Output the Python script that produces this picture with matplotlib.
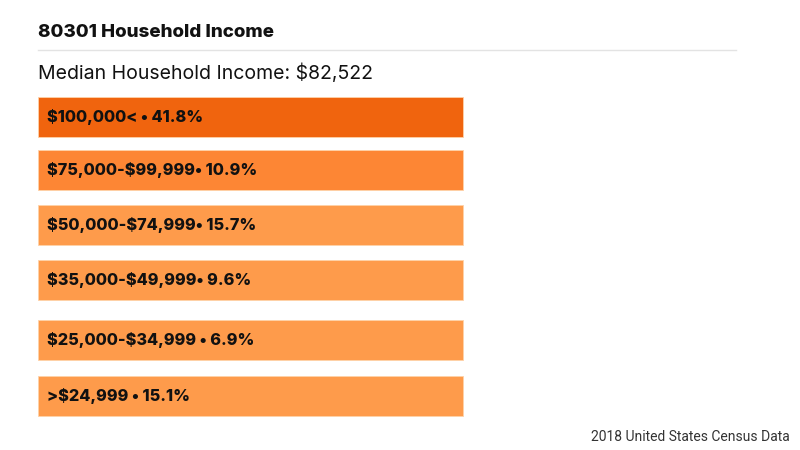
import matplotlib.pyplot as plt

# --- data ---
brackets = ["\\$100,000<", "\\$75,000-\\$99,999", "\\$50,000-\\$74,999",
            "\\$35,000-\\$49,999", "\\$25,000-\\$34,999", ">\\$24,999"]
shares = [41.8, 10.9, 15.7, 9.6, 6.9, 15.1]
seps = [" \u2022 ", "\u2022 ", "\u2022 ", "\u2022 ", " \u2022 ", " \u2022 "]
median_income = 82522

title = "80301 Household Income"
source = "2018 United States Census Data"

# layout (pixels, figure is 800x450)
bar_tops = [97, 150, 205, 260, 320, 376]
bar_h = 40
bar_colors = ["#f0640e", "#fd8634", "#fe9b4b", "#fe9b4b", "#fe9b4b", "#fe9b4b"]

fig = plt.figure(figsize=(8, 4.5), dpi=100)
ax = fig.add_axes([0, 0, 1, 1])
ax.set_xlim(0, 800)
ax.set_ylim(450, 0)
ax.axis("off")

main = ["Inter", "DejaVu Sans"]

ax.text(38, 32.5, title, fontsize=13.5, fontweight="heavy", family=main,
        va="center", ha="left", color="#111111")
ax.plot([38, 736], [50, 50], color="#e3e3e3", lw=1)
ax.text(38, 73, f"Median Household Income: \\${median_income:,}", fontsize=14,
        fontweight="normal", family=main, va="center", ha="left", color="#111111")

centers = [t + bar_h / 2 for t in bar_tops]
ax.barh(centers, [425] * len(shares), left=38, height=bar_h,
        color=bar_colors, edgecolor="#ffd2a8", linewidth=0.6)

for c, b, s, p in zip(centers, brackets, seps, shares):
    ax.text(47, c, f"{b}{s}{p}%", fontsize=11.7, fontweight="heavy",
            family=main, va="center", ha="left", color="#111111")

ax.text(790, 437, source, fontsize=10, family=["Roboto", "DejaVu Sans"],
        va="center", ha="right", color="#333333")

fig.savefig("out.png", dpi=100)
